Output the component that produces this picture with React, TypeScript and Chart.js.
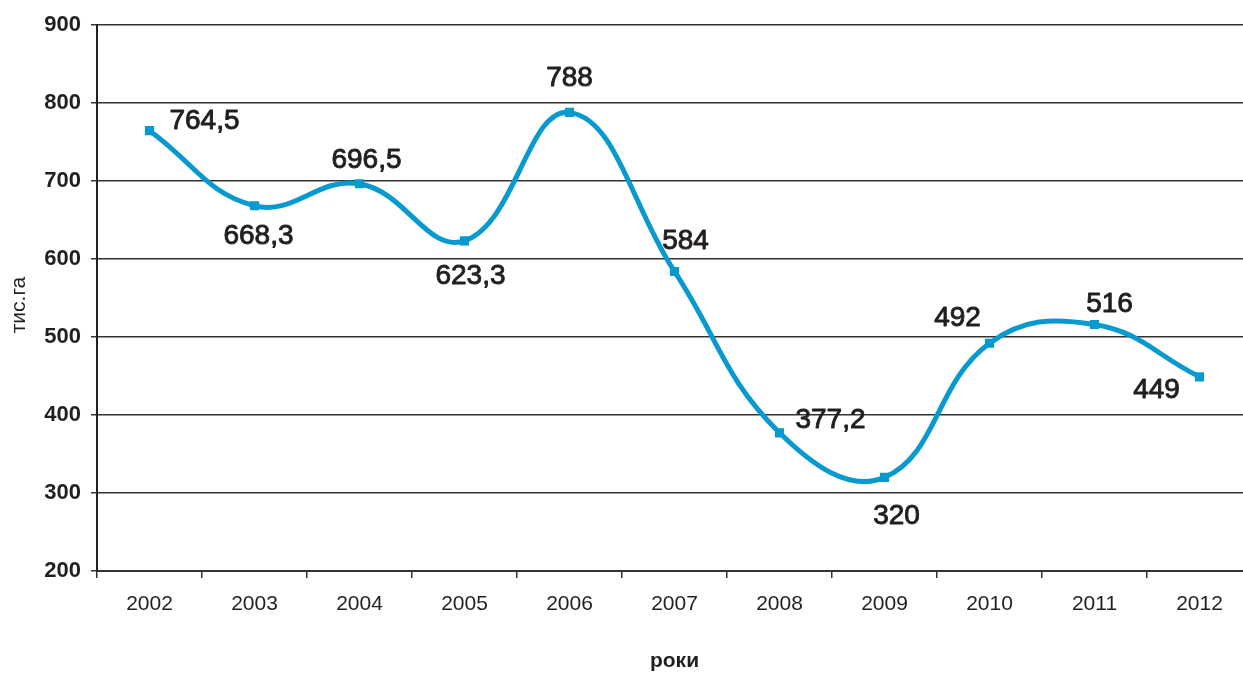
import React, { useEffect, useRef } from "react";
import { Chart, registerables } from "chart.js";

Chart.register(...registerables);

const years = ["2002", "2003", "2004", "2005", "2006", "2007", "2008", "2009", "2010", "2011", "2012"];
const areaValues = [764.5, 668.3, 696.5, 623.3, 788, 584, 377.2, 320, 492, 516, 449];
const labelOffsets: [number, number][] = [
  [55, -9], [4, 31], [7, -23], [6, 35], [0, -34], [11, -30],
  [51, -13], [12, 39], [-32, -25], [15, -20], [-43, 14],
];
const yTitle = "тис.га";
const xTitle = "роки";

const FONT = "'Liberation Sans', Arial, Helvetica, sans-serif";

const dataLabelPlugin = {
  id: "dataLabels",
  afterDatasetsDraw(chart: any) {
    const ctx = chart.ctx;
    const meta = chart.getDatasetMeta(0);
    ctx.save();
    ctx.font = `normal 28px ${FONT}`;
    ctx.fillStyle = "#231f20";
    ctx.strokeStyle = "#231f20";
    ctx.lineWidth = 0.9;
    ctx.lineJoin = "round";
    ctx.textAlign = "center";
    ctx.textBaseline = "middle";
    meta.data.forEach((pt: any, i: number) => {
      const [dx, dy] = labelOffsets[i];
      const txt = String(areaValues[i]).replace(".", ",");
      ctx.fillText(txt, pt.x + dx, pt.y + dy);
      ctx.strokeText(txt, pt.x + dx, pt.y + dy);
    });
    // y axis title
    ctx.translate(19, 305);
    ctx.rotate(-Math.PI / 2);
    ctx.font = `normal 21px ${FONT}`;
    ctx.fillText(yTitle, 0, 0);
    ctx.restore();
  },
};

export default function App() {
  const ref = useRef<HTMLCanvasElement>(null);
  useEffect(() => {
    if (!ref.current) return;
    const chart = new Chart(ref.current, {
      type: "line",
      data: {
        labels: years,
        datasets: [
          {
            data: areaValues,
            borderColor: "#0899cf",
            backgroundColor: "#0899cf",
            borderWidth: 5,
            tension: 0.42,
            pointStyle: "rect",
            pointRadius: 6.5,
            pointBorderWidth: 0,
            fill: false,
          },
        ],
      },
      options: {
        responsive: false,
        animation: false,
        devicePixelRatio: 1,
        layout: { padding: { top: 25, right: 10, left: 0, bottom: 0 } },
        plugins: { legend: { display: false }, tooltip: { enabled: false } },
        scales: {
          x: {
            offset: true,
            grid: {
              offset: true,
              drawOnChartArea: false,
              drawTicks: true,
              tickLength: 7,
              color: "#333",
              lineWidth: 1.5,
            },
            border: { display: true, color: "#333", width: 2 },
            ticks: {
              color: "#231f20",
              font: { family: FONT, size: 21 },
              padding: 14,
              maxRotation: 0,
            },
            title: {
              display: true,
              text: xTitle,
              color: "#231f20",
              font: { family: FONT, size: 21, weight: "bold" },
              padding: { top: 0, bottom: 0 },
            },
            afterFit(scale: any) {
              scale.height = 103;
            },
          },
          y: {
            min: 200,
            max: 900,
            ticks: {
              stepSize: 100,
              color: "#231f20",
              font: { family: FONT, size: 22, weight: "bold" },
              padding: 10,
            },
            grid: {
              color: "#333",
              lineWidth: 1.5,
              drawTicks: true,
              tickLength: 6,
            },
            border: { display: true, color: "#222", width: 2 },
            title: { display: false },
            afterFit(scale: any) {
              scale.width = 97;
            },
          },
        },
      },
      plugins: [dataLabelPlugin],
    });
    return () => chart.destroy();
  }, []);

  return (
    <div
      style={{
        position: "absolute",
        left: 0,
        top: 0,
        width: 1243,
        height: 674,
        overflow: "hidden",
        background: "#fff",
      }}
    >
      <canvas ref={ref} width={1262} height={674} style={{ width: 1262, height: 674, display: "block" }} />
    </div>
  );
}
